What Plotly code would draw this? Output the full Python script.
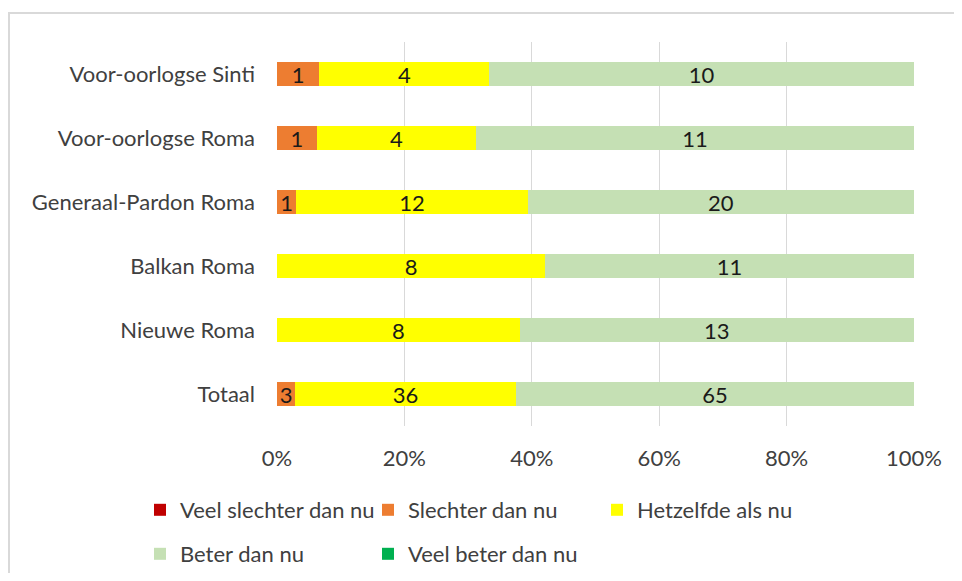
import plotly.graph_objects as go

categories = ["Voor-oorlogse Sinti", "Voor-oorlogse Roma", "Generaal-Pardon Roma",
              "Balkan Roma", "Nieuwe Roma", "Totaal"]
veel_slechter = [0, 0, 0, 0, 0, 0]
slechter = [1, 1, 1, 0, 0, 3]
hetzelfde = [4, 4, 12, 8, 8, 36]
beter = [10, 11, 20, 11, 13, 65]
veel_beter = [0, 0, 0, 0, 0, 0]
tick_vals = [0, 20, 40, 60, 80, 100]
tick_text = ["0%", "20%", "40%", "60%", "80%", "100%"]

series = [
    ("Veel slechter dan nu", veel_slechter, "#C00000", "legend"),
    ("Slechter dan nu", slechter, "#ED7D31", "legend"),
    ("Hetzelfde als nu", hetzelfde, "#FFFF00", "legend3"),
    ("Beter dan nu", beter, "#C5E0B4", "legend2"),
    ("Veel beter dan nu", veel_beter, "#00B050", "legend2"),
]

FONT = "Lato"
FS = 22
W, H = 946, 565  # page body has an 8px margin
fig = go.Figure()
for name, vals, color, lg in series:
    fig.add_trace(go.Bar(
        y=categories, x=vals, name=name, orientation="h",
        marker=dict(color=color, line=dict(width=0)),
        text=[str(v) if v else "" for v in vals],
        textposition="inside", insidetextanchor="middle",
        textangle=0, constraintext="none",
        textfont=dict(family=FONT, size=FS, color="#1a1a1a"),
        legend=lg, hoverinfo="skip",
    ))

legend_common = dict(orientation="h", xref="container", yref="container",
                     xanchor="left", yanchor="middle", entrywidth=183,
                     font=dict(family=FONT, size=FS, color="#404040"),
                     bgcolor="rgba(0,0,0,0)", traceorder="normal")

fig.update_layout(
    barmode="stack", barnorm="percent", bargap=0.61,
    width=W, height=H,
    margin=dict(l=269, r=40, t=34, b=147, autoexpand=False),
    paper_bgcolor="white", plot_bgcolor="white",
    font=dict(family=FONT, size=FS, color="#404040"),
    showlegend=True,
    legend=dict(x=132 / W, y=1 - 502 / H, **legend_common),
    legend3=dict(x=589 / W, y=1 - 502 / H, **legend_common),
    legend2=dict(x=132 / W, y=1 - 546 / H, **legend_common),
    xaxis=dict(range=[0, 100], tickvals=tick_vals, ticktext=tick_text,
               showgrid=True, gridcolor="#d9d9d9", gridwidth=1,
               zeroline=False, showline=False, ticks="",
               tickfont=dict(family=FONT, size=FS, color="#404040"),
               ticklabelstandoff=17, fixedrange=True),
    yaxis=dict(autorange="reversed", showgrid=False, zeroline=False,
               showline=False, ticks="", ticklabelstandoff=21,
               tickfont=dict(family=FONT, size=FS, color="#404040"),
               fixedrange=True),
    shapes=[dict(type="rect", xref="paper", yref="paper",
                 x0=(1 - 269) / 637, x1=1.2, y0=-0.6, y1=(418 - 5) / 384,
                 line=dict(color="#d9d9d9", width=2), layer="below")],
)

fig.write_html("out.html")
